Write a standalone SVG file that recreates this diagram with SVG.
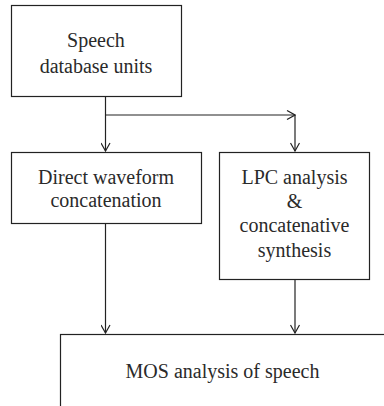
<svg xmlns="http://www.w3.org/2000/svg" width="384" height="406" viewBox="0 0 384 406">
<style>
.box{fill:#fff;stroke:#222;stroke-width:1.2}
text{font-family:'Liberation Serif','DejaVu Serif',serif;font-size:20px;fill:#2a2a2a;text-anchor:middle}
.ln{fill:none;stroke:#222;stroke-width:1.2}
</style>
<defs>
<marker id="arr" viewBox="0 0 10 10" refX="9" refY="5" markerWidth="10" markerHeight="10" markerUnits="userSpaceOnUse" orient="auto">
<path d="M1,0.5 L9,5 L1,9.5" fill="none" stroke="#222" stroke-width="1.2"/>
</marker>
</defs>
<rect width="384" height="406" fill="#fff"/>
<g id="connectors">
<line class="ln" x1="105.5" y1="97" x2="105.5" y2="151" marker-end="url(#arr)"/>
<polyline class="ln" points="105.5,115 295,115" marker-end="url(#arr)"/>
<line class="ln" x1="295" y1="115" x2="295" y2="151" marker-end="url(#arr)"/>
<line class="ln" x1="105.5" y1="224" x2="105.5" y2="333" marker-end="url(#arr)"/>
<line class="ln" x1="295" y1="280" x2="295" y2="333" marker-end="url(#arr)"/>
</g>
<g id="speech-db" font-family="Liberation Serif, serif">
<rect class="box" x="11.5" y="5.5" width="170" height="91"/>
<text x="96" y="47">Speech</text>
<text x="96" y="73">database units</text>
</g>
<g id="direct" font-family="Liberation Serif, serif">
<rect class="box" x="11.5" y="152.5" width="190" height="71"/>
<text x="106" y="184">Direct waveform</text>
<text x="106" y="207">concatenation</text>
</g>
<g id="lpc" font-family="Liberation Serif, serif">
<rect class="box" x="219.5" y="152.5" width="150" height="127"/>
<text x="294.5" y="184">LPC analysis</text>
<text x="294.5" y="208">&amp;</text>
<text x="294.5" y="232">concatenative</text>
<text x="294.5" y="257">synthesis</text>
</g>
<g id="mos" font-family="Liberation Serif, serif">
<rect class="box" x="60.5" y="334.5" width="340" height="90"/>
<text x="222.5" y="378">MOS analysis of speech</text>
</g>
</svg>
